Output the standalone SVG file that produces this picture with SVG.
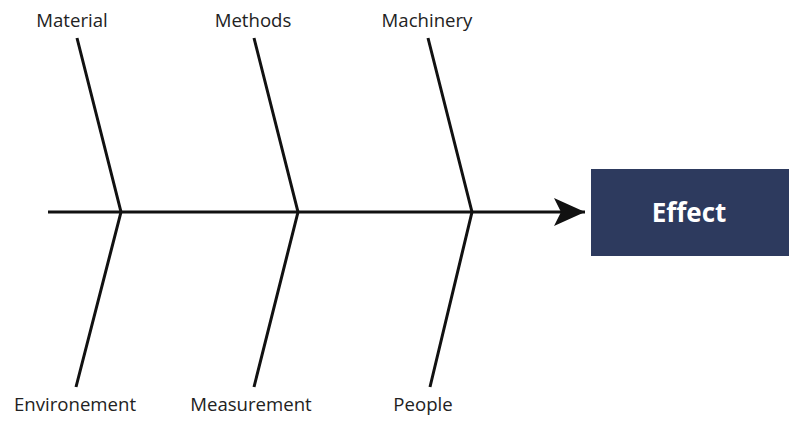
<svg xmlns="http://www.w3.org/2000/svg" width="800" height="426" viewBox="0 0 800 426">
<style>
.lbl{font-family:"Open Sans","Liberation Sans",sans-serif;font-size:18.6px;fill:#222;text-anchor:middle}
.bone{stroke:#111;stroke-width:3;fill:none;stroke-linecap:butt}
.eff{font-family:"Open Sans","Liberation Sans",sans-serif;font-size:26px;font-weight:bold;fill:#fff;text-anchor:middle}
</style>
<defs>
<marker id="ah" markerUnits="userSpaceOnUse" markerWidth="32" markerHeight="28" refX="31" refY="14" orient="auto">
<path d="M0,0 L31,14 L0,28 L7,14 Z" fill="#111"/>
</marker>
</defs>
<g id="connectors">
<line class="bone" x1="48" y1="212" x2="585" y2="212" marker-end="url(#ah)"/>
<polyline class="bone" points="77,38 121,212 76,387"/>
<polyline class="bone" points="254,38 298,212 254,387"/>
<polyline class="bone" points="428,38 472,212 430,387"/>
</g>
<g id="material"><text class="lbl" x="72" y="27">Material</text></g>
<g id="methods"><text class="lbl" x="253" y="27">Methods</text></g>
<g id="machinery"><text class="lbl" x="427" y="27">Machinery</text></g>
<g id="environement"><text class="lbl" x="75" y="411">Environement</text></g>
<g id="measurement"><text class="lbl" x="251" y="411">Measurement</text></g>
<g id="people"><text class="lbl" x="423" y="411">People</text></g>
<g id="effect">
<rect x="591" y="169" width="198" height="87" fill="#2d3a5e"/>
<text class="eff" x="689" y="222">Effect</text>
</g>
</svg>
